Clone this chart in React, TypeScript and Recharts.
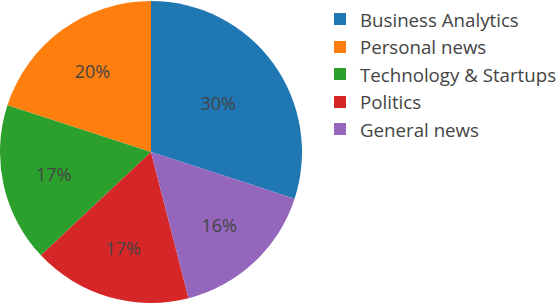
import { PieChart, Pie, Cell } from "recharts";

const categories = ["Business Analytics", "Personal news", "Technology & Startups", "Politics", "General news"];
const shares = [30, 20, 17, 17, 16];
const colors = ["#1f77b4", "#ff7f0e", "#2ca02c", "#d62728", "#9467bd"];

const data = categories.map((name, i) => ({ name, value: shares[i] }));

const FONT = '"Open Sans", sans-serif';

const renderLabel = (props: any) => {
  const { cx, cy, midAngle, outerRadius, percent } = props;
  const RAD = Math.PI / 180;
  const r = outerRadius * (percent > 0.25 ? 0.55 : 0.66);
  const x = cx + r * Math.cos(-midAngle * RAD);
  const y = cy + r * Math.sin(-midAngle * RAD);
  return (
    <text x={x} y={y} fill="#444" fontSize={18} fontFamily={FONT} textAnchor="middle" dominantBaseline="central">
      {Math.round(percent * 100)}%
    </text>
  );
};

export default function App() {
  return (
    <div style={{ position: "relative", width: 556, height: 304, background: "#fff", overflow: "hidden" }}>
      <style>{`body{margin:0}`}</style>
      <PieChart width={556} height={304} margin={{ top: 0, right: 0, bottom: 0, left: 0 }}>
        <Pie
          data={data}
          dataKey="value"
          nameKey="name"
          cx={151}
          cy={152}
          outerRadius={151}
          startAngle={-18}
          endAngle={342}
          stroke="none"
          label={renderLabel}
          labelLine={false}
          isAnimationActive={false}
        >
          {data.map((d, i) => (
            <Cell key={d.name} fill={colors[i]} />
          ))}
        </Pie>
      </PieChart>
      {categories.map((name, i) => (
        <div
          key={name}
          style={{
            position: "absolute",
            left: 334,
            top: 19 + i * 27.5 - 12,
            height: 24,
            display: "flex",
            alignItems: "center",
            fontFamily: FONT,
            fontSize: 18.7,
            color: "#444",
            whiteSpace: "nowrap",
          }}
        >
          <span style={{ display: "inline-block", width: 12, height: 12, background: colors[i], marginRight: 14 }} />
          {name}
        </div>
      ))}
    </div>
  );
}
